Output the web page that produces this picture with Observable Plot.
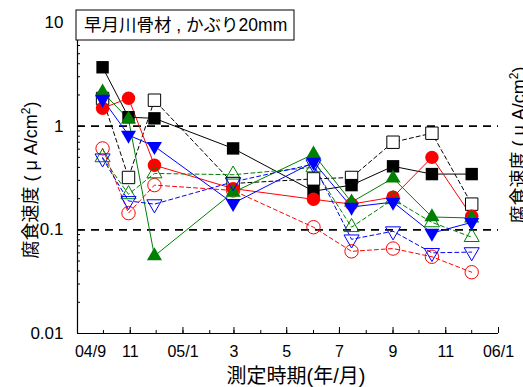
<!DOCTYPE html>
<html>
<head>
<meta charset="utf-8">
<script src="https://cdn.jsdelivr.net/npm/d3@7"></script>
<script src="https://cdn.jsdelivr.net/npm/@observablehq/plot@0.6"></script>
<style>
  body { margin: 0; background: #fff; }
  #chart { position: relative; width: 523px; height: 387px; overflow: hidden; }
  #chart svg { font-family: "Liberation Sans", "Noto Sans CJK JP", sans-serif; }
</style>
</head>
<body>
<div id="chart"></div>
<script>
// Measurement dates
const dates = ["2004-09-30", "2004-10-30", "2004-11-29", "2005-02-28", "2005-06-01",
               "2005-07-15", "2005-09-01", "2005-10-16", "2005-12-01"];

// Corrosion rate (μA/cm²) per specimen
const blackFilled = [3.7, 1.22, 1.19, 0.61, 0.236, 0.27, 0.41, 0.345, 0.345];
const blackOpen   = [1.85, 0.32, 1.78, 0.28, 0.31, 0.32, 0.70, 0.855, 0.177];
const redFilled   = [1.49, 1.86, 0.42, 0.25, 0.197, 0.177, 0.207, 0.50, 0.135];
const redOpen     = [0.61, 0.145, 0.27, 0.24, 0.106, 0.062, 0.066, 0.055, 0.039];
const greenFilled = [2.13, 1.17, 0.056, 0.23, 0.537, 0.185, 0.315, 0.133, 0.13];
const greenOpen   = [0.50, 0.22, 0.35, 0.34, 0.40, 0.106, 0.197, 0.118, 0.085];
const blueFilled  = [1.82, 0.82, 0.64, 0.18, 0.45, 0.166, 0.185, 0.093, 0.118];
const blueOpen    = [0.49, 0.19, 0.177, 0.29, 0.43, 0.081, 0.097, 0.06, 0.061];

// Axis ticks and labels
const xTickDates  = ["2004-09-01", "2004-11-01", "2005-01-01", "2005-03-01", "2005-05-01",
                     "2005-07-01", "2005-09-01", "2005-11-01", "2006-01-01"];
const xTickLabels = ["04/9", "11", "05/1", "3", "5", "7", "9", "11", "06/1"];
const yTicks      = [0.01, 0.1, 1, 10];
const yTickLabels = ["0.01", "0.1", "1", "10"];
const refLevels   = [0.1, 1];

const titleText = "早月川骨材 , かぶり20mm";
const xTitle = "測定時期(年/月)";

// Downward-pointing triangle symbol
const triangleDown = {
  draw(context, size) {
    const y = Math.sqrt(size / (Math.sqrt(3) * 3));
    const s = Math.sqrt(3) * y;
    context.moveTo(0, 2 * y);
    context.lineTo(-s, -y);
    context.lineTo(s, -y);
    context.closePath();
  }
};

const series = [
  {values: blackOpen,   color: "black",   filled: false, symbol: "square"},
  {values: blackFilled, color: "black",   filled: true,  symbol: "square"},
  {values: redOpen,     color: "#ff0000", filled: false, symbol: "circle"},
  {values: redFilled,   color: "#ff0000", filled: true,  symbol: "circle"},
  {values: greenOpen,   color: "#008000", filled: false, symbol: "triangle"},
  {values: greenFilled, color: "#008000", filled: true,  symbol: "triangle"},
  {values: blueOpen,    color: "#0000ff", filled: false, symbol: triangleDown},
  {values: blueFilled,  color: "#0000ff", filled: true,  symbol: triangleDown}
];

const parse = d3.utcParse("%Y-%m-%d");
const tables = series.map(s => dates.map((d, i) => ({date: parse(d), value: s.values[i]})));

const xStart = parse("2004-09-01");
const xEnd = parse("2006-01-01");
const monthTicks = d3.utcMonth.range(xStart, d3.utcDay.offset(xEnd, 1));
const labelFor = new Map(xTickDates.map((d, i) => [+parse(d), xTickLabels[i]]));
const yLabelFor = new Map(yTicks.map((v, i) => [v, yTickLabels[i]]));

const minorY = [];
for (let k = -2; k < 1; k++) for (let m = 2; m <= 9; m++) minorY.push(+(m * 10 ** k).toPrecision(3));

function markerR(s) {
  if (s.symbol === "square") return 7;
  if (s.symbol === "circle") return 6.7;
  return 5.6;
}

const marks = [];
// Reference levels
marks.push(Plot.ruleY(refLevels, {stroke: "black", strokeWidth: 1.6, strokeDasharray: "8,6"}));
// Connecting lines
series.forEach((s, k) => {
  marks.push(Plot.line(tables[k], {
    x: "date", y: "value", stroke: s.color, strokeWidth: 1,
    strokeDasharray: s.filled ? null : "4,3"
  }));
});
// Markers
series.forEach((s, k) => {
  marks.push(Plot.dot(tables[k], {
    x: "date", y: "value", symbol: s.symbol, r: markerR(s),
    fill: s.filled ? s.color : (s.symbol === "square" ? "white" : "none"),
    stroke: s.color, strokeWidth: s.filled ? 0 : 1
  }));
});
// Axis lines
marks.push(Plot.ruleX([xStart], {stroke: "black", strokeWidth: 1.2}));
marks.push(Plot.ruleY([0.01], {stroke: "black", strokeWidth: 1.2}));
// Ticks
marks.push(Plot.axisX({ticks: monthTicks, tickSize: -3, tickFormat: () => "", label: null}));
marks.push(Plot.axisX({ticks: xTickDates.map(parse), tickSize: -6, tickFormat: () => "", label: null}));
marks.push(Plot.axisX({ticks: [xStart], tickSize: 0, tickPadding: 12, fontSize: 16, dx: 13,
  tickFormat: d => labelFor.get(+d), label: null}));
marks.push(Plot.axisX({ticks: xTickDates.slice(1).map(parse), tickSize: 0, tickPadding: 12, fontSize: 16,
  tickFormat: d => labelFor.get(+d), label: null}));
marks.push(Plot.axisY({ticks: minorY, tickSize: -3, tickFormat: () => "", label: null}));
marks.push(Plot.axisY({ticks: yTicks, tickSize: -6, tickFormat: () => "", label: null}));
marks.push(Plot.axisY({ticks: yTicks, tickSize: 0, tickPadding: 14, fontSize: 17,
  tickFormat: d => yLabelFor.get(d), label: null}));

const chart = Plot.plot({
  width: 523, height: 387,
  marginLeft: 77, marginRight: 25, marginTop: 22, marginBottom: 54,
  x: {type: "utc", domain: [xStart, xEnd], label: null},
  y: {type: "log", domain: [0.01, 10], label: null},
  style: {background: "white", color: "black", overflow: "visible"},
  marks
});

const svg = d3.select(chart);
// Title box
const tb = svg.append("g");
tb.append("rect").attr("x", 76).attr("y", 10).attr("width", 218).attr("height", 30)
  .attr("fill", "white").attr("stroke", "black").attr("stroke-width", 1);
tb.append("text").attr("x", 84).attr("y", 31).attr("font-size", 17.5).attr("fill", "black")
  .attr("text-anchor", "start").text(titleText);

// Axis titles
function yTitle(g, x, y) {
  const t = g.append("text").attr("transform", `translate(${x},${y}) rotate(-90)`)
    .attr("text-anchor", "middle").attr("font-size", 18).attr("fill", "black");
  t.append("tspan").text("腐食速度 ( μ A/cm");
  t.append("tspan").attr("dy", -7).attr("font-size", 12).text("2");
  t.append("tspan").attr("dy", 7).text(")");
}
yTitle(svg, 37, 180);
yTitle(svg, 525, 145);
svg.append("text").attr("x", 296).attr("y", 383).attr("text-anchor", "middle")
  .attr("font-size", 20).attr("fill", "black").text(xTitle);

document.getElementById("chart").appendChild(chart);
</script>
</body>
</html>
